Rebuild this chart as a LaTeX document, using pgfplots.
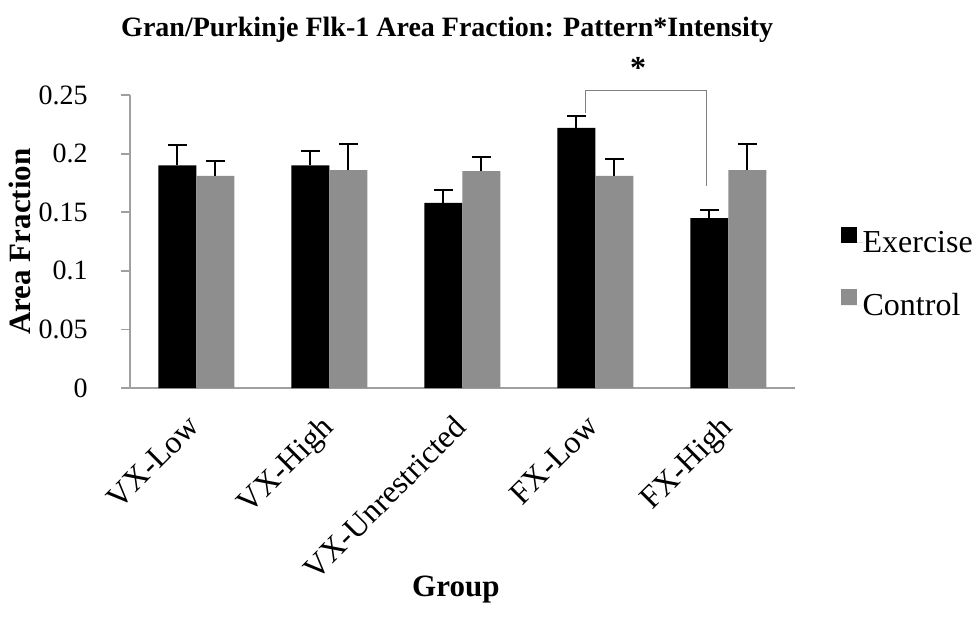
\documentclass[border=0pt]{standalone}
\usepackage{pgfplots}
\pgfplotsset{compat=1.18}
\usepackage{pgfplotstable}
\usepackage{fontspec}
\setmainfont{Liberation Serif}

\definecolor{ctlgray}{HTML}{8E8E8E}
\definecolor{axgray}{HTML}{A0A0A0}

% group, exercise, error, control, error
\pgfplotstableread{
x  ex     exerr  ctl    ctlerr
0  0.190  0.017  0.181  0.013
1  0.190  0.012  0.186  0.022
2  0.158  0.011  0.185  0.012
3  0.222  0.010  0.181  0.014
4  0.145  0.007  0.186  0.022
}\flkdata

\begin{document}
\begin{tikzpicture}
\begin{axis}[
    scale only axis,
    width=332.5pt, height=146.5pt,
    xmin=-0.5, xmax=4.5,
    ymin=0, ymax=0.25,
    ybar, bar width=19pt,
    axis lines*=left,
    axis line style={axgray, line width=0.9pt},
    xtick={0,1,2,3,4},
    xticklabels={VX-Low, VX-High, VX-Unrestricted, FX-Low, FX-High},
    major x tick style={draw=none},
    ytick={0,0.05,0.1,0.15,0.2,0.25},
    yticklabels={0,0.05,0.1,0.15,0.2,0.25},
    y tick style={axgray, line width=0.9pt},
    tick align=outside, major tick length=4.5pt,
    yticklabel style={font=\fontsize{14}{17}\selectfont, inner sep=0pt, xshift=-16.5pt},
    xticklabel style={font=\fontsize{16}{19}\selectfont, inner sep=0pt,
        xshift=-5pt, yshift=-8pt, rotate=45, anchor=north east},
    ylabel={\textbf{Area Fraction}},
    ylabel style={font=\fontsize{15.5}{18}\selectfont, at={(rel axis cs:-0.166,0.5)}, anchor=center},
    xlabel={\textbf{Group}},
    xlabel style={font=\fontsize{15.5}{18}\selectfont, at={(rel axis cs:0.49,-0.689)}, anchor=center},
    title={\textbf{Gran/Purkinje Flk-1 Area Fraction: Pattern*Intensity}},
    every axis title shift=0pt,
    title style={font=\fontsize{14}{17}\selectfont, at={(rel axis cs:0.477,1.222)}, anchor=center},
    legend style={at={(rel axis cs:1.068,0.395)}, anchor=west, draw=none, fill=none,
        font=\fontsize{16}{19}\selectfont, row sep=17pt, column sep=0pt, inner sep=0pt,
        nodes={inner sep=0pt}},
    legend cell align=left,
    legend image code/.code={%
        \fill[#1] (0pt,0.22em-2pt) rectangle (8pt,0.22em+6pt);
        \path (0pt,0pt) -- (11pt,0pt);},
    clip=false,
    error bars/error bar style={black, line width=1pt},
    error bars/error mark options={black, rotate=90, mark size=4.75pt, line width=1pt},
]
\addplot[fill=black, draw=none, bar shift=-9.5pt,
    error bars/.cd, y dir=plus, y explicit]
    table[x=x, y=ex, y error=exerr] {\flkdata};
\addlegendentry{Exercise}
\addplot[fill=ctlgray, draw=none, bar shift=9.5pt,
    error bars/.cd, y dir=plus, y explicit]
    table[x=x, y=ctl, y error=ctlerr] {\flkdata};
\addlegendentry{Control}

% significance bracket between FX-Low and FX-High exercise bars
\addplot[sharp plot, axgray!80!black, line width=0.8pt, mark=none, forget plot]
    coordinates {(2.925,0.2346) (2.925,0.254) (3.835,0.254) (3.835,0.172)};
\node[font=\fontsize{16}{19}\selectfont] at (axis cs:3.32,0.2735) {\textbf{*}};
\end{axis}
\pgfresetboundingbox
\path (-65pt,-125pt) rectangle (422.5pt,194pt);
\end{tikzpicture}
\end{document}
